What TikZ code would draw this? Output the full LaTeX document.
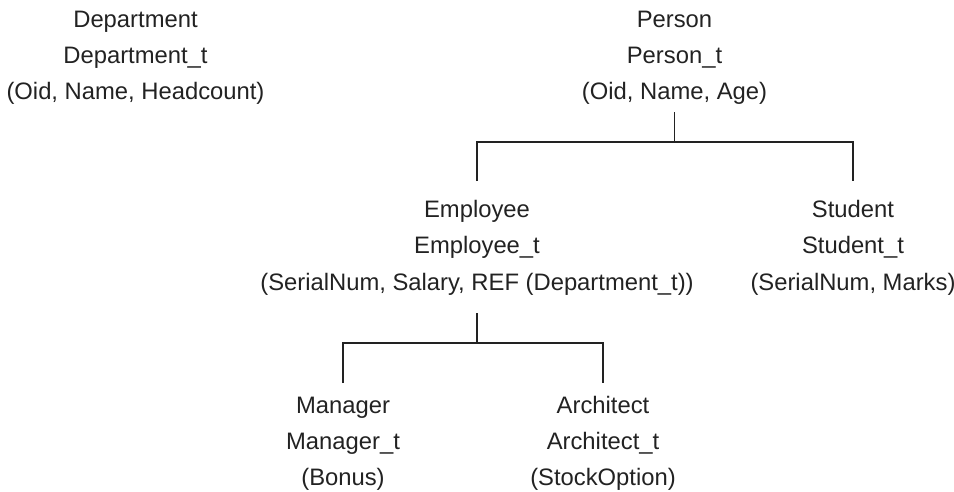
\documentclass[tikz,border=0pt]{standalone}
\usepackage{fontspec}
\setmainfont{Liberation Sans}
\definecolor{ink}{HTML}{222222}
\begin{document}
\begin{tikzpicture}[x=1pt,y=-1pt,
  cls/.style={align=center, inner sep=0pt, text=ink, anchor=base,
              font=\fontsize{23.8}{36.2}\selectfont},
  link/.style={draw=ink, line width=1.3pt}]
\useasboundingbox (0,0) rectangle (954,491);

% object types (anchored on the baseline of the last line)
\node[cls] (dept)  at (135.5,99.5) {Department\\Department\_t\\(Oid, Name, Headcount)};
\node[cls] (pers)  at (674.5,99.5) {Person\\Person\_t\\(Oid, Name, Age)};
\node[cls] (emp)   at (477,290)    {Employee\\Employee\_t\\(SerialNum, Salary, REF (Department\_t))};
\node[cls] (stud)  at (853,290)    {Student\\Student\_t\\(SerialNum, Marks)};
\node[cls] (mgr)   at (343,485.5)  {Manager\\Manager\_t\\(Bonus)};
\node[cls] (arch)  at (603,485.5)  {Architect\\Architect\_t\\(StockOption)};

% Person hierarchy
\coordinate (pj) at (674.5,112);
\coordinate (pb) at (674.5,142);
\draw[link] (pj) -- (pb);
\draw[link] (emp.north |- 0,181) |- (pb) -| (stud.north |- 0,181);

% Employee hierarchy
\coordinate (ej) at (477,313);
\coordinate (eb) at (477,343);
\draw[link] (ej) -- (eb);
\draw[link] (mgr.north |- 0,383) |- (eb) -| (arch.north |- 0,383);
\end{tikzpicture}
\end{document}
